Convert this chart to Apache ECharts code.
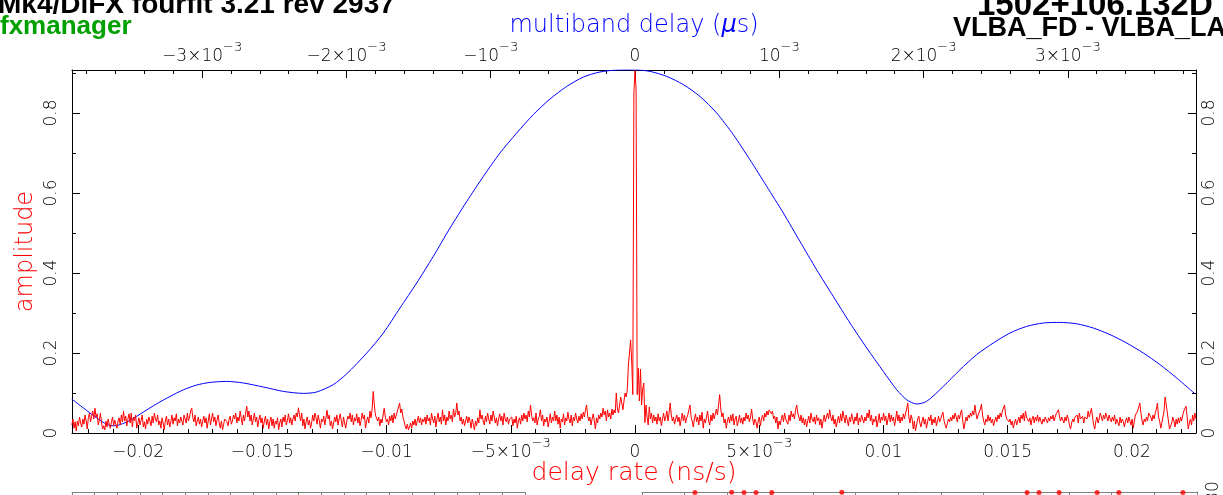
<!DOCTYPE html>
<html>
<head>
<meta charset="utf-8">
<script src="https://cdn.jsdelivr.net/npm/echarts@6/dist/echarts.min.js"></script>
<style>
html,body{margin:0;padding:0;background:#fff;}
#c{width:1223px;height:495px;}
</style>
</head>
<body>
<div id="c"></div>
<script>
// Multiband delay function (blue): delay in microseconds, amplitude
const delayUs = [-0.003904,-0.003823,-0.003730,-0.003661,-0.003615,-0.003569,-0.003500,-0.003407,-0.003315,-0.003222,
 -0.003130,-0.003037,-0.002945,-0.002830,-0.002714,-0.002576,-0.002437,-0.002299,-0.002206,-0.002091,
 -0.001998,-0.001859,-0.001744,-0.001629,-0.001513,-0.001398,-0.001282,-0.001166,-0.001051,
 -0.000936,-0.000820,-0.000705,-0.000589,-0.000473,-0.000358,-0.000243,-0.000127,0,0.000104,
 0.000220,0.000335,0.000450,0.000566,0.000681,0.000797,0.000913,0.001028,0.001143,0.001259,
 0.001374,0.001490,0.001606,0.001721,0.001814,0.001883,0.001952,0.002021,0.002137,
 0.002252,0.002368,0.002483,0.002599,0.002714,0.002830,0.002945,0.003061,0.003176,0.003292,
 0.003407,0.003523,0.003638,0.003754,0.003881];
const delayAmp = [0.085,0.0625,0.0375,0.0215,0.018,0.021,0.0315,0.0525,0.073,0.0915,
 0.108,0.120,0.1265,0.129,0.125,0.115,0.104,0.099,0.1025,0.121,
 0.148,0.200,0.250,0.3125,0.375,0.4415,0.5125,0.579,0.6415,
 0.700,0.750,0.796,0.835,0.8665,0.890,0.9025,0.9075,0.908,0.904,
 0.8915,0.871,0.8415,0.800,0.746,0.683,0.6165,0.550,0.479,0.408,
 0.3415,0.275,0.2125,0.154,0.108,0.083,0.0725,0.079,0.1165,
 0.158,0.196,0.225,0.250,0.2665,0.275,0.2765,0.273,0.2625,0.246,
 0.225,0.200,0.171,0.1375,0.098];

// Delay-rate spectrum (red): amplitude per rate bin; bin 512 is rate 0
const rateStep = 0.00004427;   // ns/s per bin
const rateZeroBin = 512;
const rateAmp = [
 0.020,0.035,0.012,0.028,0.005,0.030,0.018,0.040,0.025,0.015,0.035,0.022,0.045,0.030,0.010,0.038,0.050,0.028,0.042,0.055,
 0.035,0.062,0.040,0.048,0.020,0.032,0.050,0.025,0.010,0.018,0.008,0.030,0.015,0.035,0.022,0.012,0.028,0.040,0.018,0.032,
 0.022,0.012,0.030,0.038,0.020,0.045,0.028,0.055,0.030,0.042,0.018,0.035,0.048,0.025,0.050,0.015,0.040,0.030,0.045,0.012,
 0.025,0.038,0.020,0.032,0.045,0.015,0.028,0.010,0.035,0.022,0.040,0.030,0.018,0.042,0.025,0.050,0.035,0.028,0.045,0.020,
 0.030,0.012,0.038,0.025,0.008,0.030,0.042,0.020,0.035,0.015,0.028,0.045,0.022,0.038,0.030,0.048,0.018,0.035,0.025,0.040,
 0.030,0.020,0.045,0.035,0.025,0.050,0.030,0.040,0.055,0.062,0.038,0.028,0.045,0.018,0.030,0.040,0.022,0.035,0.015,0.030,
 0.042,0.025,0.038,0.012,0.030,0.048,0.020,0.035,0.050,0.028,0.040,0.018,0.032,0.045,0.025,0.012,0.030,0.008,0.022,0.035,
 0.040,0.028,0.018,0.035,0.042,0.022,0.030,0.045,0.035,0.050,0.025,0.040,0.030,0.055,0.038,0.020,0.045,0.030,0.050,0.067,
 0.040,0.055,0.030,0.045,0.020,0.035,0.050,0.028,0.040,0.015,0.032,0.045,0.025,0.038,0.012,0.030,0.042,0.020,0.035,0.010,
 0.028,0.040,0.018,0.035,0.012,0.030,0.022,0.038,0.008,0.025,0.035,0.015,0.040,0.028,0.045,0.020,0.032,0.048,0.025,0.038,
 0.020,0.035,0.045,0.030,0.050,0.040,0.063,0.045,0.030,0.050,0.018,0.035,0.010,0.028,0.040,0.020,0.032,0.012,0.025,0.045,
 0.030,0.050,0.038,0.022,0.045,0.030,0.012,0.035,0.028,0.042,0.020,0.038,0.057,0.035,0.045,0.018,0.030,0.010,0.025,0.040,
 0.028,0.045,0.020,0.035,0.048,0.030,0.015,0.040,0.025,0.012,0.030,0.042,0.035,0.050,0.028,0.045,0.020,0.038,0.030,0.048,
 0.025,0.040,0.018,0.032,0.050,0.035,0.045,0.012,0.030,0.040,0.025,0.055,0.038,0.060,0.104,0.070,0.045,0.050,0.030,0.040,
 0.018,0.035,0.025,0.045,0.062,0.040,0.028,0.035,0.020,0.042,0.030,0.045,0.025,0.050,0.035,0.040,0.055,0.060,0.075,0.050,
 0.060,0.040,0.030,0.018,0.010,0.022,0.008,0.015,0.025,0.012,0.030,0.020,0.035,0.018,0.030,0.042,0.025,0.038,0.020,0.035,
 0.028,0.040,0.022,0.045,0.030,0.038,0.020,0.050,0.035,0.025,0.042,0.015,0.035,0.050,0.028,0.040,0.022,0.058,0.030,0.045,
 0.020,0.040,0.030,0.055,0.035,0.045,0.028,0.060,0.040,0.050,0.075,0.045,0.055,0.030,0.040,0.022,0.035,0.018,0.030,0.042,
 0.025,0.040,0.030,0.012,0.035,0.022,0.008,0.030,0.018,0.038,0.025,0.058,0.035,0.045,0.030,0.020,0.042,0.028,0.050,0.035,
 0.022,0.045,0.030,0.055,0.040,0.025,0.038,0.018,0.035,0.048,0.030,0.042,0.020,0.050,0.035,0.028,0.040,0.022,0.035,0.030,
 0.040,0.018,0.035,0.025,0.042,0.012,0.030,0.038,0.022,0.045,0.030,0.050,0.035,0.045,0.028,0.055,0.040,0.070,0.045,0.030,
 0.038,0.025,0.050,0.020,0.035,0.042,0.058,0.030,0.045,0.018,0.035,0.028,0.040,0.015,0.030,0.048,0.025,0.040,0.030,0.055,
 0.030,0.045,0.022,0.040,0.012,0.035,0.028,0.048,0.020,0.038,0.030,0.052,0.035,0.025,0.045,0.018,0.040,0.030,0.050,0.035,
 0.025,0.042,0.030,0.048,0.035,0.052,0.040,0.058,0.070,0.042,0.030,0.040,0.020,0.035,0.048,0.030,0.010,0.038,0.025,0.045,
 0.035,0.050,0.040,0.062,0.045,0.055,0.030,0.058,0.040,0.050,0.035,0.060,0.045,0.058,0.050,0.100,0.060,0.050,0.070,0.090,
 0.075,0.058,0.080,0.100,0.090,0.108,0.170,0.200,0.233,0.180,0.096,0.850,0.906,0.860,0.096,0.162,0.080,0.160,0.070,0.110,
 0.125,0.026,0.070,0.040,0.020,0.065,0.035,0.050,0.025,0.045,0.030,0.040,0.022,0.048,0.030,0.040,0.018,0.035,0.050,0.030,
 0.040,0.055,0.030,0.050,0.075,0.045,0.030,0.040,0.022,0.035,0.045,0.028,0.040,0.018,0.035,0.050,0.030,0.045,0.025,0.038,
 0.045,0.058,0.070,0.040,0.030,0.015,0.035,0.048,0.028,0.040,0.020,0.045,0.030,0.052,0.012,0.035,0.025,0.040,0.055,0.030,
 0.020,0.045,0.030,0.050,0.035,0.040,0.060,0.045,0.070,0.096,0.060,0.040,0.050,0.025,0.035,0.012,0.030,0.040,0.025,0.045,
 0.030,0.048,0.020,0.035,0.042,0.018,0.030,0.045,0.025,0.038,0.022,0.040,0.030,0.050,0.035,0.045,0.028,0.040,0.060,0.035,
 0.020,0.035,0.028,0.012,0.030,0.040,0.018,0.035,0.045,0.030,0.050,0.040,0.055,0.045,0.058,0.062,0.048,0.055,0.035,0.042,
 0.025,0.040,0.010,0.030,0.020,0.035,0.045,0.028,0.050,0.035,0.040,0.022,0.045,0.030,0.055,0.040,0.048,0.035,0.058,0.070,
 0.050,0.040,0.030,0.045,0.025,0.038,0.020,0.035,0.015,0.030,0.042,0.025,0.050,0.035,0.028,0.040,0.022,0.045,0.030,0.038,
 0.020,0.035,0.012,0.030,0.045,0.028,0.040,0.050,0.035,0.058,0.040,0.030,0.045,0.022,0.035,0.015,0.030,0.042,0.025,0.048,
 0.030,0.055,0.040,0.025,0.045,0.032,0.018,0.040,0.028,0.048,0.035,0.022,0.040,0.030,0.050,0.020,0.038,0.028,0.045,0.035,
 0.025,0.040,0.030,0.050,0.038,0.058,0.030,0.045,0.020,0.035,0.028,0.042,0.015,0.030,0.048,0.025,0.040,0.032,0.050,0.030,
 0.042,0.020,0.035,0.050,0.028,0.045,0.030,0.040,0.018,0.035,0.055,0.030,0.045,0.025,0.040,0.030,0.048,0.035,0.050,0.060,
 0.075,0.040,0.025,0.045,0.035,0.010,0.030,0.005,0.020,0.035,0.042,0.025,0.015,0.030,0.040,0.022,0.035,0.012,0.028,0.040,
 0.030,0.045,0.020,0.035,0.025,0.040,0.018,0.030,0.042,0.028,0.035,0.045,0.052,0.030,0.020,0.012,0.025,0.035,0.028,0.040,
 0.030,0.045,0.035,0.050,0.040,0.028,0.045,0.035,0.050,0.058,0.030,0.010,0.025,0.040,0.030,0.045,0.038,0.050,0.042,0.055,
 0.045,0.070,0.050,0.035,0.045,0.040,0.060,0.072,0.045,0.030,0.020,0.035,0.028,0.045,0.030,0.040,0.025,0.035,0.018,0.030,
 0.040,0.028,0.045,0.035,0.050,0.040,0.055,0.060,0.070,0.045,0.035,0.040,0.028,0.035,0.020,0.030,0.012,0.025,0.035,0.020,
 0.030,0.040,0.025,0.045,0.035,0.050,0.030,0.055,0.040,0.045,0.028,0.038,0.020,0.035,0.042,0.025,0.040,0.030,0.045,0.028,
 0.040,0.030,0.022,0.035,0.028,0.040,0.032,0.025,0.038,0.030,0.042,0.035,0.045,0.030,0.040,0.048,0.050,0.058,0.040,0.030,
 0.040,0.035,0.025,0.040,0.030,0.045,0.035,0.020,0.010,0.025,0.035,0.028,0.040,0.035,0.045,0.025,0.050,0.035,0.030,0.042,
 0.025,0.040,0.045,0.035,0.055,0.040,0.050,0.062,0.040,0.020,0.010,0.030,0.040,0.025,0.035,0.050,0.040,0.030,0.045,0.035,
 0.050,0.040,0.030,0.045,0.035,0.028,0.040,0.030,0.045,0.022,0.035,0.030,0.018,0.040,0.025,0.035,0.028,0.015,0.030,0.038,
 0.025,0.040,0.030,0.020,0.035,0.012,0.030,0.045,0.040,0.055,0.060,0.075,0.050,0.030,0.020,0.035,0.028,0.040,0.030,0.050,
 0.055,0.040,0.030,0.045,0.035,0.050,0.060,0.075,0.040,0.030,0.012,0.025,0.040,0.055,0.090,0.070,0.050,0.030,0.010,0.005,
 0.025,0.040,0.030,0.015,0.035,0.022,0.038,0.025,0.040,0.030,0.045,0.055,0.060,0.067,0.040,0.010,0.025,0.035,0.020,0.045,
 0.030,0.050,0.035];

// Top edge of the lower panels (per-AP markers and the reference channel tick)
const stripDotsX = [12.4, 21.0, 23.9, 26.7, 30.4, 46.8, 90.2, 93.0, 97.7, 106.6, 111.7, 126.7];
const stripDotsY = [29.4, 29.6, 29.5, 29.4, 29.3, 29.6, 29.4, 29.5, 29.3, 29.4, 29.5, 29.4];
const stripMarkX = [10, 10];
const stripMarkY = [30, 28.8];

const rateRange = [-0.02266, 0.02258];
const delayRange = [-0.003902, 0.003888];
const ampMax = 0.9075;

const bluePts = delayUs.map((d, i) => [d, delayAmp[i]]);
const redPts = rateAmp.map((a, i) => [(i - rateZeroBin) * rateStep, a]);
const dotPts = stripDotsX.map((x, i) => [x, stripDotsY[i]]);
const markPts = stripMarkX.map((x, i) => [x, stripMarkY[i]]);

const FONT = 'DejaVu Sans';
const LIGHT = 200;
const rich = {
  b: {fontFamily: FONT, fontWeight: LIGHT, fontSize: 17, lineHeight: 24, verticalAlign: 'bottom', color: '#000'},
  s: {fontFamily: FONT, fontWeight: LIGHT, fontSize: 13, lineHeight: 14, verticalAlign: 'top', color: '#000'}
};
function fmtDelay(v) {
  const k = Math.round(v / 0.001);
  if (k === 0) return '{b|0}';
  const sign = k < 0 ? '−' : '';
  const m = Math.abs(k);
  return '{b|' + sign + (m === 1 ? '' : m + '×') + '10}{s|−3}';
}
function fmtRate(v) {
  const k = Math.round(v / 0.005);
  if (k === 0) return '{b|0}';
  const sign = k < 0 ? '−' : '';
  if (Math.abs(k) === 1) return '{b|' + sign + '5×10}{s|−3}';
  return '{b|' + sign + String(Math.abs(Math.round(v * 1000) / 1000)) + '}';
}

const axisLineStyle = {color: '#000', width: 1};
const grayLine = {color: '#808080', width: 1};
const chart = echarts.init(document.getElementById('c'), null, {renderer: 'canvas'});
chart.setOption({
  animation: false,
  backgroundColor: '#fff',
  grid: [
    {left: 72, right: 27, top: 70, height: 363},
    {left: 72, width: 453, top: 492, height: 100},
    {left: 642, right: 26, top: 492, height: 100}
  ],
  xAxis: [
    {
      type: 'value', position: 'bottom', min: rateRange[0], max: rateRange[1], splitNumber: 9,
      axisLine: {show: true, onZero: false, lineStyle: axisLineStyle},
      axisTick: {show: true, inside: true, length: 8, lineStyle: axisLineStyle},
      minorTick: {show: true, splitNumber: 5, length: 4, lineStyle: axisLineStyle},
      splitLine: {show: false},
      axisLabel: {formatter: fmtRate, rich: rich, margin: 4, showMinLabel: false, showMaxLabel: false},
      name: 'delay rate (ns/s)', nameLocation: 'middle', nameGap: 28, nameMoveOverlap: false,
      nameTextStyle: {color: '#ff0000', fontFamily: FONT, fontWeight: LIGHT, fontSize: 25, verticalAlign: 'top'}
    },
    {
      type: 'value', position: 'top', min: delayRange[0], max: delayRange[1], splitNumber: 8,
      axisLine: {show: true, onZero: false, lineStyle: axisLineStyle},
      axisTick: {show: true, inside: true, length: 8, lineStyle: axisLineStyle},
      minorTick: {show: true, splitNumber: 5, length: 4, lineStyle: axisLineStyle},
      splitLine: {show: false},
      axisLabel: {formatter: fmtDelay, rich: rich, margin: 5, showMinLabel: false, showMaxLabel: false},
      name: '{n|multiband delay (}{i|μ}{n|s)}', nameLocation: 'middle', nameGap: 32, nameMoveOverlap: false,
      nameTextStyle: {verticalAlign: 'bottom', rich: {
        n: {color: '#0000ff', fontFamily: FONT, fontWeight: LIGHT, fontSize: 24},
        i: {color: '#0000ff', fontFamily: FONT, fontWeight: LIGHT, fontSize: 24, fontStyle: 'italic'}
      }}
    },
    {
      gridIndex: 1, type: 'value', position: 'top', min: 0, max: 20, interval: 1,
      axisLine: {show: true, onZero: false, lineStyle: grayLine},
      axisTick: {show: true, inside: true, length: 4, lineStyle: grayLine},
      axisLabel: {show: false}, splitLine: {show: false}
    },
    {
      gridIndex: 2, type: 'value', position: 'top', min: 0, max: 130, interval: 10,
      axisLine: {show: true, onZero: false, lineStyle: grayLine},
      axisTick: {show: true, inside: true, length: 4, lineStyle: grayLine},
      axisLabel: {show: false}, splitLine: {show: false}
    }
  ],
  yAxis: [
    {
      type: 'value', position: 'left', min: 0, max: ampMax, interval: 0.2,
      axisLine: {show: true, onZero: false, lineStyle: axisLineStyle},
      axisTick: {show: true, inside: true, length: 8, lineStyle: axisLineStyle},
      minorTick: {show: true, splitNumber: 2, length: 4, lineStyle: axisLineStyle},
      splitLine: {show: false},
      axisLabel: {rotate: 90, fontFamily: FONT, fontWeight: LIGHT, fontSize: 17, color: '#000', margin: 12, showMaxLabel: false,
        formatter: v => String(Math.round(v * 10) / 10)},
      name: 'amplitude', nameLocation: 'middle', nameGap: 34, nameRotate: 90, nameMoveOverlap: false,
      nameTextStyle: {color: '#ff0000', fontFamily: FONT, fontWeight: LIGHT, fontSize: 24}
    },
    {
      type: 'value', position: 'right', min: 0, max: ampMax, interval: 0.2,
      axisLine: {show: true, onZero: false, lineStyle: axisLineStyle},
      axisTick: {show: true, inside: true, length: 8, lineStyle: axisLineStyle},
      minorTick: {show: true, splitNumber: 2, length: 4, lineStyle: axisLineStyle},
      splitLine: {show: false},
      axisLabel: {rotate: 90, fontFamily: FONT, fontWeight: LIGHT, fontSize: 17, color: '#000', margin: 5, showMaxLabel: false,
        formatter: v => String(Math.round(v * 10) / 10)}
    },
    {
      gridIndex: 1, type: 'value', min: 0, max: 30, show: false
    },
    {
      gridIndex: 2, type: 'value', position: 'right', min: 0, max: 30, interval: 10,
      axisLine: {show: true, onZero: false, lineStyle: grayLine},
      axisTick: {show: false}, splitLine: {show: false},
      axisLabel: {rotate: 90, fontFamily: FONT, fontWeight: LIGHT, fontSize: 17, color: '#000', margin: 8,
        formatter: v => (v === 30 ? '30' : '')}
    }
  ],
  graphic: [
    {type: 'text', left: -2, top: -9, style: {text: 'Mk4/DiFX fourfit 3.21 rev 2937', fontFamily: 'Liberation Sans', fontWeight: 'bold', fontSize: 28, fill: '#000'}},
    {type: 'text', left: 0, top: 14, style: {text: 'fxmanager', fontFamily: 'Liberation Sans', fontWeight: 'bold', fontSize: 26, fill: '#00a000'}},
    {type: 'text', left: 977, top: -11, style: {text: '1502+106.132D', fontFamily: 'Liberation Sans', fontWeight: 'bold', fontSize: 33, fill: '#000'}},
    {type: 'text', left: 953, top: 15, style: {text: 'VLBA_FD - VLBA_LA', fontFamily: 'Liberation Sans', fontWeight: 'bold', fontSize: 27, fill: '#000'}}
  ],
  series: [
    {
      type: 'line', xAxisIndex: 1, yAxisIndex: 0, data: bluePts, smooth: 0.25, showSymbol: false,
      lineStyle: {color: '#0000ff', width: 1}, itemStyle: {color: '#0000ff'}, z: 2
    },
    {
      type: 'line', xAxisIndex: 0, yAxisIndex: 0, data: redPts, showSymbol: false,
      lineStyle: {color: '#ff0000', width: 1}, itemStyle: {color: '#ff0000'}, z: 3
    },
    {
      type: 'line', xAxisIndex: 2, yAxisIndex: 2, data: markPts, showSymbol: false,
      lineStyle: {color: '#00a000', width: 1}, z: 4
    },
    {
      type: 'scatter', xAxisIndex: 3, yAxisIndex: 3, data: dotPts, symbolSize: 5,
      itemStyle: {color: '#ff0000'}, z: 4
    }
  ]
});
</script>
</body>
</html>
